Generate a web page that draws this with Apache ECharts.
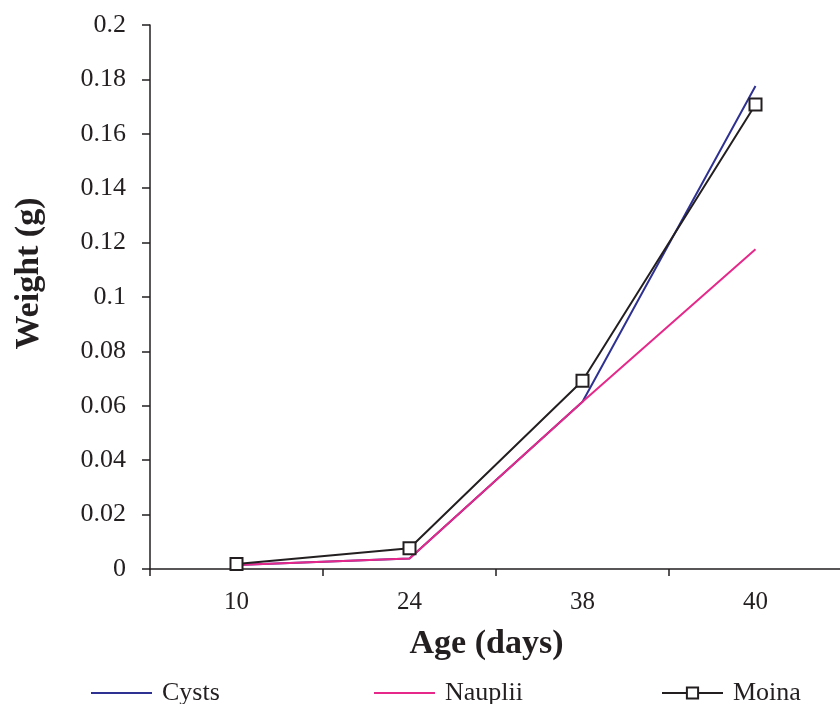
<!DOCTYPE html>
<html>
<head>
<meta charset="utf-8">
<script src="https://cdn.jsdelivr.net/npm/echarts@6/dist/echarts.min.js"></script>
<style>
  html, body { margin: 0; padding: 0; background: #fff; }
  #chart { width: 840px; height: 704px; }
</style>
</head>
<body>
<div id="chart"></div>
<script>
// data
const ages = ['10', '24', '38', '40']
const cysts = [0.0015, 0.0039, 0.0615, 0.1776]
const nauplii = [0.0015, 0.0039, 0.0615, 0.1176]
const moina = [0.0018, 0.0076, 0.0692, 0.1708]

const ink = '#231f20'
const font = 'Liberation Serif'

const chart = echarts.init(document.getElementById('chart'))

const legendStyle = {
  top: 680,
  padding: 0,
  itemWidth: 61,
  itemHeight: 14,
  itemGap: 10,
  textStyle: { fontFamily: font, fontSize: 26, color: ink, padding: [0, 0, 0, 5] }
}

chart.setOption({
  animation: false,
  textStyle: { fontFamily: font },
  grid: { left: 150, top: 25, width: 692, height: 544, outerBoundsMode: 'none' },
  legend: [
    // plain line icons for the two series without markers
    { ...legendStyle, left: 91, itemHeight: 2, data: [{ name: 'Cysts', icon: 'rect' }] },
    { ...legendStyle, left: 374, itemHeight: 2, data: [{ name: 'Nauplii', icon: 'rect' }] },
    { ...legendStyle, left: 661, data: ['Moina'] }
  ],
  xAxis: {
    type: 'category',
    data: ages,
    boundaryGap: true,
    name: 'Age (days)',
    nameLocation: 'middle',
    nameGap: 58,
    nameTextStyle: { fontFamily: font, fontSize: 34, fontWeight: 'bold', color: ink, padding: [0, 19, 0, 0] },
    axisLine: { lineStyle: { color: ink, width: 1.5 } },
    axisTick: { show: true, length: 7, lineStyle: { color: ink, width: 1.5 } },
    axisLabel: { fontFamily: font, fontSize: 25, color: ink, margin: 21 },
    splitLine: { show: false }
  },
  yAxis: {
    type: 'value',
    min: 0,
    max: 0.2,
    interval: 0.02,
    name: 'Weight (g)',
    nameLocation: 'middle',
    nameGap: 104,
    nameTextStyle: { fontFamily: font, fontSize: 34, fontWeight: 'bold', color: ink, padding: [0, 0, 0, 47] },
    axisLine: { show: true, lineStyle: { color: ink, width: 1.5 } },
    axisTick: { show: true, length: 8, lineStyle: { color: ink, width: 1.5 } },
    axisLabel: { fontFamily: font, fontSize: 26, color: ink, margin: 24 },
    splitLine: { show: false }
  },
  series: [
    {
      name: 'Cysts',
      type: 'line',
      data: cysts,
      symbol: 'none',
      lineStyle: { color: '#2e3192', width: 2 },
      itemStyle: { color: '#2e3192' }
    },
    {
      name: 'Nauplii',
      type: 'line',
      data: nauplii,
      symbol: 'none',
      lineStyle: { color: '#e6288a', width: 2 },
      itemStyle: { color: '#e6288a' }
    },
    {
      name: 'Moina',
      type: 'line',
      data: moina,
      symbol: 'emptyRect',
      symbolSize: 12,
      lineStyle: { color: ink, width: 2 },
      itemStyle: { color: ink, borderColor: ink, borderWidth: 2 }
    }
  ]
})
</script>
</body>
</html>
